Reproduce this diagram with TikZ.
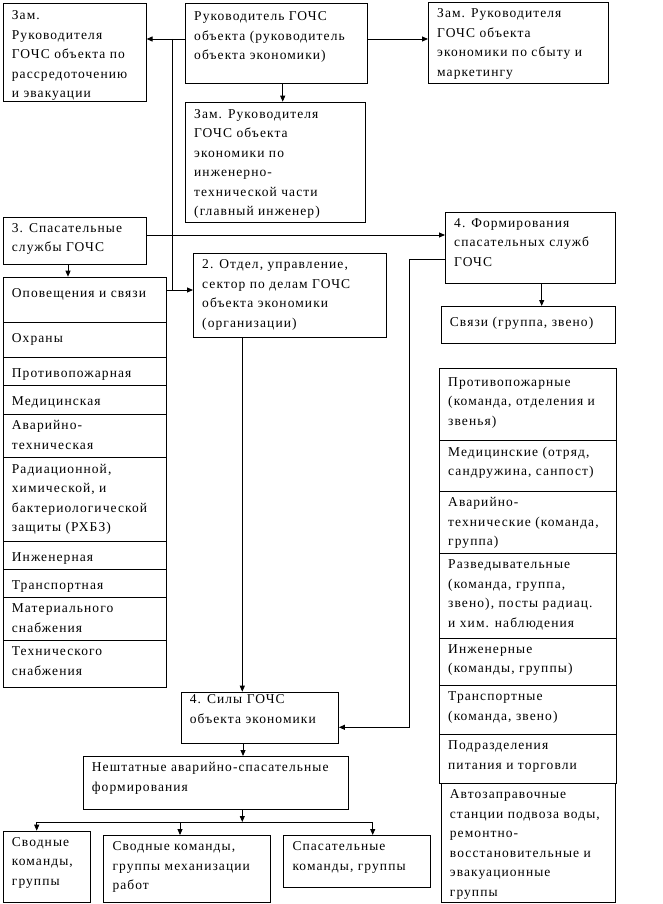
\documentclass[tikz,border=0pt]{standalone}
\usepackage{fontspec}
\setmainfont{Liberation Serif}[LetterSpace=8]
\usetikzlibrary{arrows.meta}
\tikzset{
  box/.style={draw, line width=0.9pt, inner sep=0pt, anchor=north west},
  txt/.style={inner sep=0pt, anchor=north west, align=left,
    font=\fontsize{13.5}{19.5}\selectfont, execute at begin node=\strut},
  arr/.style={-{Triangle[length=6pt,width=5pt]}, line width=0.9pt},
  ln/.style={line width=0.9pt}
}
\newcommand\bxo[7]{%
  \node[box, minimum width={(#4-#2)*1pt}, minimum height={(#5-#3)*1pt}] (#1) at (#2,#3) {};
  \node[txt] (#1t) at ({#2+9},{#3+#7}) {#6};}
\newcommand\bx[6]{\bxo{#1}{#2}{#3}{#4}{#5}{#6}{6.5}}
\begin{document}
\begin{tikzpicture}[x=1pt,y=-1pt]
\fill[white] (0,0) rectangle (662,904);
\useasboundingbox (0,0) rectangle (662,904);
% top row
\bxo{zr}{2.7}{3}{145.7}{101}{Зам.\\Руководителя\\ГОЧС объекта по\\рассредоточению\\и эвакуации}{7.5}
\bxo{head}{185}{3}{366.7}{83}{Руководитель ГОЧС\\объекта (руководитель\\объекта экономики)}{8.5}
\bx{zm}{428}{2}{608}{83}{Зам. Руководителя\\ГОЧС объекта\\экономики по сбыту и\\маркетингу}
\bxo{zi}{185}{101.7}{365}{221.7}{Зам. Руководителя\\ГОЧС объекта\\экономики по\\инженерно-\\технической части\\(главный инженер)}{7.5}
\bx{s3}{2.7}{216.7}{145.7}{264}{3. Спасательные\\службы ГОЧС}
\bx{o2}{193}{253}{386}{337}{2. Отдел, управление,\\сектор по делам ГОЧС\\объекта экономики\\(организации)}
\bx{f4}{445}{211.7}{615}{282.7}{4. Формирования\\спасательных служб\\ГОЧС}
\bx{sv}{440.7}{306}{615}{342.7}{Связи (группа, звено)}
% left list
\bx{l1}{2.7}{276.7}{165.7}{322}{Оповещения и связи}
\bx{l2}{2.7}{322}{165.7}{357.3}{Охраны}
\bx{l3}{2.7}{357.3}{165.7}{385}{Противопожарная}
\bx{l4}{2.7}{385}{165.7}{414}{Медицинская}
\bx{l5}{2.7}{414}{165.7}{457.3}{Аварийно-\\техническая}
\bx{l6}{2.7}{457.3}{165.7}{540.7}{Радиационной,\\химической, и\\бактериологической\\защиты (РХБЗ)}
\bx{l7}{2.7}{540.7}{165.7}{569}{Инженерная}
\bx{l8}{2.7}{569}{165.7}{597.3}{Транспортная}
\bx{l9}{2.7}{597.3}{165.7}{640}{Материального\\снабжения}
\bx{l10}{2.7}{640}{165.7}{687.3}{Технического\\снабжения}
% right list
\bxo{r1}{439}{368.3}{615.7}{440}{Противопожарные\\(команда, отделения и\\звенья)}{9}
\bx{r2}{439}{440}{615.7}{491}{Медицинские (отряд,\\сандружина, санпост)}
\bx{r3}{439}{491}{615.7}{553.3}{Аварийно-\\технические (команда,\\группа)}
\bx{r4}{439}{553.3}{615.7}{637.7}{Разведывательные\\(команда, группа,\\звено), посты радиац.\\и хим. наблюдения}
\bx{r5}{439}{637.7}{615.7}{685}{Инженерные\\(команды, группы)}
\bx{r6}{439}{685}{615.7}{734}{Транспортные\\(команда, звено)}
\bx{r7}{439}{734}{615.7}{783.3}{Подразделения\\питания и торговли}
\bx{r8}{440.7}{783.3}{615}{902}{Автозаправочные\\станции подвоза воды,\\ремонтно-\\восстановительные и\\эвакуационные\\группы}
% lower part
\bxo{sily}{180.7}{691.7}{338}{742.7}{4. Силы ГОЧС\\объекта экономики}{3}
\bx{ne}{82.7}{756}{347.7}{809}{Нештатные аварийно-спасательные\\формирования}
\bx{ba}{2.7}{830.7}{90}{902}{Сводные\\команды,\\группы}
\bx{bb}{103.3}{835}{270}{902}{Сводные команды,\\группы механизации\\работ}
\bx{bc}{283.3}{835}{430}{886.7}{Спасательные\\команды, группы}
% helper coordinates
\coordinate (y39) at (0,39);
\coordinate (xa) at (282.7,0);
\coordinate (v1) at (172.7,39);
\coordinate (y290) at (0,290);
\coordinate (y235) at (0,235);
\coordinate (x68) at (68,0);
\coordinate (k1) at (409.3,259);
\coordinate (k2) at (409.3,727.3);
\coordinate (x541) at (541.7,0);
\coordinate (x242) at (242.3,0);
\coordinate (x243) at (243,0);
\coordinate (h) at (242.3,822);
\coordinate (hl) at (36.7,822);
\coordinate (hm) at (180,822);
\coordinate (hr) at (372.7,822);
% connectors
\draw[arr] (head.west |- y39) -- (zr.east |- y39);
\draw[arr] (head.east |- y39) -- (zm.west |- y39);
\draw[arr] (head.south -| xa) -- (zi.north -| xa);
\draw[ln] (v1) -- (v1 |- y290);
\draw[arr] (l1.east |- y290) -- (o2.west |- y290);
\draw[arr] (s3.east |- y235) -- (f4.west |- y235);
\draw[arr] (s3.south -| x68) -- (l1.north -| x68);
\draw[arr] (f4.west |- k1) -- (k1) -- (k2) -- (sily.east |- k2);
\draw[arr] (f4.south -| x541) -- (sv.north -| x541);
\draw[arr] (o2.south -| x242) -- (sily.north -| x242);
\draw[arr] (sily.south -| x243) -- (ne.north -| x243);
\draw[arr] (ne.south -| h) -- (h);
\draw[ln] (hl) -- (hr);
\draw[arr] (hl) -- (ba.north -| hl);
\draw[arr] (hm) -- (bb.north -| hm);
\draw[arr] (hr) -- (bc.north -| hr);
\end{tikzpicture}
\end{document}
